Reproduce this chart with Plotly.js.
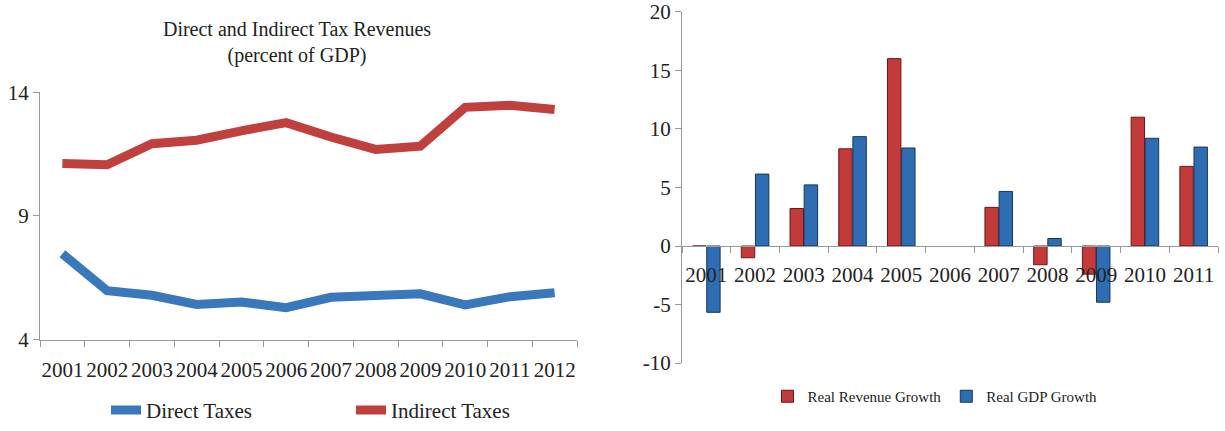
<!DOCTYPE html>
<html>
<head>
<meta charset="utf-8">
<script src="https://cdn.plot.ly/plotly-3.0.1.min.js"></script>
<style>
  html, body { margin: 0; padding: 0; background: #fff; }
  #chart { width: 1225px; height: 431px; }
</style>
</head>
<body>
<div id="chart"></div>
<script>
// left panel: tax revenues, percent of GDP
var taxYears = ['2001','2002','2003','2004','2005','2006','2007','2008','2009','2010','2011','2012'];
var directTaxes = [7.47, 5.98, 5.79, 5.42, 5.52, 5.29, 5.71, 5.75, 5.85, 5.40, 5.73, 5.89];
var indirectTaxes = [11.12, 11.07, 11.92, 12.06, 12.44, 12.77, 12.19, 11.69, 11.82, 13.39, 13.47, 13.30];

// right panel: growth rates (2006 has no bars in the source)
var growthYears = ['2001','2002','2003','2004','2005','2006','2007','2008','2009','2010','2011'];
var revenueGrowth = [0, -1.0, 3.2, 8.3, 16.0, null, 3.3, -1.6, -2.4, 11.0, 6.8];
var gdpGrowth = [-5.66, 6.14, 5.22, 9.34, 8.37, null, 4.66, 0.64, -4.8, 9.2, 8.45];
var growthTicks = [-10, -5, 0, 5, 10, 15, 20];
var growthTickText = ['-10', '-5', '0', '5', '10', '15', '20'];

var W = 1225, H = 431;
var serif = "'Liberation Serif', 'Times New Roman', Times, serif";

var data = [
    {
        x: taxYears, y: directTaxes, name: 'Direct Taxes',
        type: 'scatter', mode: 'lines',
        line: {color: '#3a78bc', width: 9},
        xaxis: 'x', yaxis: 'y', legend: 'legend'
    },
    {
        x: taxYears, y: indirectTaxes, name: 'Indirect Taxes',
        type: 'scatter', mode: 'lines',
        line: {color: '#c0403d', width: 9},
        xaxis: 'x', yaxis: 'y', legend: 'legend'
    },
    {
        x: growthYears, y: revenueGrowth, name: 'Real Revenue Growth',
        type: 'bar',
        marker: {color: '#c23a3a', line: {color: '#6e1616', width: 1}},
        xaxis: 'x2', yaxis: 'y2', legend: 'legend2'
    },
    {
        x: growthYears, y: gdpGrowth, name: 'Real GDP Growth',
        type: 'bar',
        marker: {color: '#2f6db2', line: {color: '#15365e', width: 1}},
        xaxis: 'x2', yaxis: 'y2', legend: 'legend2'
    }
];

var y2Bottom = 1 - 370 / H, y2Top = 1 - 12 / H;

var layout = {
    width: W, height: H,
    margin: {l: 0, r: 0, t: 0, b: 0},
    paper_bgcolor: '#fff', plot_bgcolor: '#fff',
    font: {family: serif, color: '#222', size: 21},
    showlegend: true,
    barmode: 'group',
    bargap: 0.42,
    bargroupgap: 0.05,
    title: {
        text: 'Direct and Indirect Tax Revenues<br>(percent of GDP)',
        x: 297 / W, xanchor: 'center',
        y: 1 - 36 / H, yanchor: 'middle',
        font: {family: serif, size: 20, color: '#222'}
    },
    xaxis: {
        domain: [40 / W, 577 / W],
        anchor: 'y',
        type: 'category',
        range: [-0.5, 11.5],
        tickangle: 0,
        showline: true, linecolor: '#999', linewidth: 1,
        ticks: 'outside', tickson: 'boundaries', ticklen: 6, tickcolor: '#999',
        ticklabelstandoff: 11,
        showgrid: false, zeroline: false,
        tickfont: {size: 21}
    },
    yaxis: {
        domain: [1 - 346 / H, 1 - 94 / H],
        anchor: 'x',
        range: [4, 14],
        tickvals: [4, 9, 14],
        showline: true, linecolor: '#999', linewidth: 1,
        ticks: 'outside', ticklen: 6, tickcolor: '#999',
        showgrid: false, zeroline: false,
        tickfont: {size: 21}
    },
    xaxis2: {
        domain: [682 / W, 1218 / W],
        anchor: 'free',
        position: y2Bottom + (10 / 30) * (y2Top - y2Bottom),
        type: 'category',
        tickangle: 0,
        showline: true, linecolor: '#999', linewidth: 1,
        ticks: 'outside', tickson: 'boundaries', ticklen: 6, tickcolor: '#999',
        ticklabelstandoff: 10,
        showgrid: false, zeroline: false,
        tickfont: {size: 21}
    },
    yaxis2: {
        domain: [y2Bottom, y2Top],
        anchor: 'x2',
        range: [-10, 20],
        tickvals: growthTicks,
        ticktext: growthTickText,
        showline: true, linecolor: '#999', linewidth: 1,
        ticks: 'outside', ticklen: 6, tickcolor: '#999',
        showgrid: false, zeroline: false,
        tickfont: {size: 21}
    },
    legend: {
        orientation: 'h',
        x: 106 / W, xanchor: 'left',
        y: 1 - 418 / H, yanchor: 'middle',
        font: {size: 21},
        entrywidth: 200
    },
    legend2: {
        orientation: 'h',
        x: 935 / W, xanchor: 'center',
        y: 1 - 404 / H, yanchor: 'middle',
        font: {size: 15}
    }
};

Plotly.newPlot('chart', data, layout, {displayModeBar: false, staticPlot: true});
</script>
</body>
</html>
